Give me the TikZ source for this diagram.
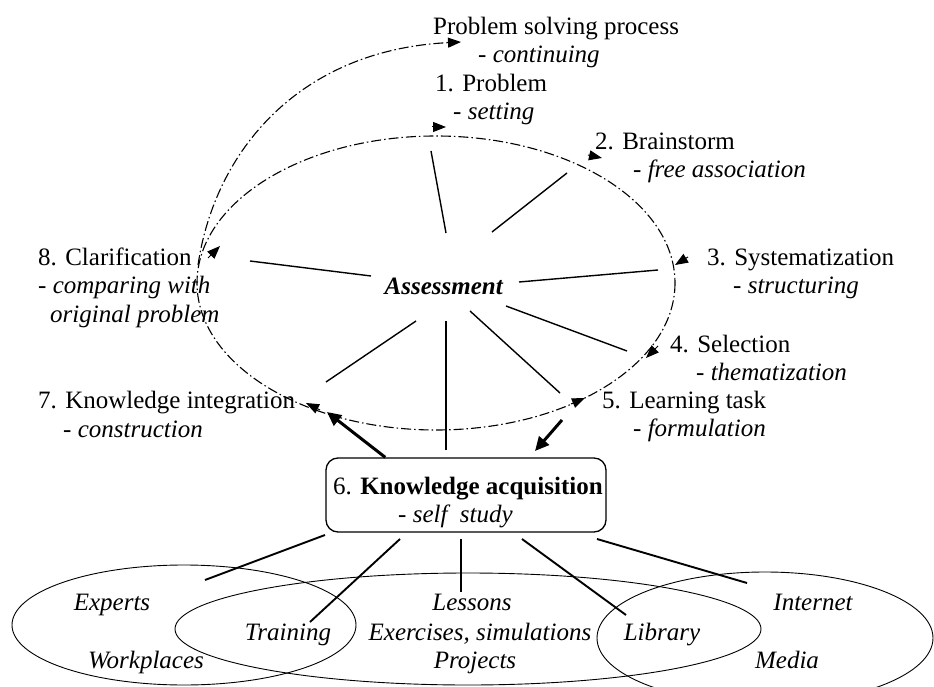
\documentclass[tikz,border=0pt]{standalone}
\usepackage{fontspec}
\setmainfont{Liberation Serif}
\usetikzlibrary{arrows.meta}

\tikzset{
  lab/.style={anchor=base west, inner sep=0pt},
  src/.style={anchor=base, inner sep=0pt, font=\fontsize{25}{28}\selectfont\itshape},
  spoke/.style={line width=1.4pt},
  link/.style={line width=1.9pt},
  area/.style={line width=0.9pt},
  loopline/.style={line width=1.1pt, dash pattern=on 10pt off 3pt on 1.5pt off 3pt},
  head/.style={line width=1pt, -{Triangle[length=13pt,width=10pt]}},
  bighead/.style={line width=3pt, -{Triangle[length=14pt,width=13pt]}},
  acqbox/.style={draw, line width=1.3pt, rounded corners=12pt, minimum width=280pt, minimum height=74pt}
}

\begin{document}
\begin{tikzpicture}[x=1pt,y=-1pt,font=\fontsize{25}{28}\selectfont]
\useasboundingbox (0,0) rectangle (934,687);
\clip (0,0) rectangle (934,687);

\draw[loopline] (436,283) ellipse [x radius=239, y radius=147];
\draw[loopline,-{Triangle[length=13pt,width=10pt]}]
     (198,265) .. controls (215,150) and (300,50) .. (461,42);

\draw[head] (432,127) -- (446,127);
\draw[head] (588,155) -- (602,158);
\draw[head] (688,257) -- (675,265);
\draw[head] (658,346) -- (646,358);
\draw[head] (571,404) -- (585,398);
\draw[head] (320,410) -- (306,403);
\draw[head] (208,258) -- (220,246);

\node (p0)  [lab] at (433,35)  {Problem solving process};
\node (p0s) [lab] at (478,63)  {- \textit{continuing}};
\node (p1)  [lab] at (435,92)  {1. Problem};
\node (p1s) [lab] at (453,120) {- \textit{setting}};
\node (p2)  [lab] at (595,150) {2. Brainstorm};
\node (p2s) [lab] at (633,178) {- \textit{free association}};
\node (p3)  [lab] at (707,265) {3. Systematization};
\node (p3s) [lab] at (733,293) {- \textit{structuring}};
\node (p4)  [lab] at (670,352) {4. Selection};
\node (p4s) [lab] at (696,380) {- \textit{thematization}};
\node (p5)  [lab] at (602,408) {5. Learning task};
\node (p5s) [lab] at (633,436) {- \textit{formulation}};
\node (p7)  [lab] at (38,408)  {7. Knowledge integration};
\node (p7s) [lab] at (63,437)  {- \textit{construction}};
\node (p8)  [lab] at (38,265)  {8. Clarification};
\node (p8s) [lab] at (38,293)  {- \textit{comparing with}};
\node (p8t) [lab] at (50,322)  {\textit{original problem}};

\node (as) [anchor=base, inner sep=0pt] at (444,294) {\textbf{\textit{Assessment}}};

\coordinate (i1) at (446,233); \coordinate (o1) at (431,151);
\coordinate (i2) at (492,232); \coordinate (o2) at (567,173);
\coordinate (i3) at (519,282); \coordinate (o3) at (658,270);
\coordinate (i4) at (506,306); \coordinate (o4) at (627,351);
\coordinate (i5) at (470,311); \coordinate (o5) at (560,393);
\coordinate (i6) at (446,321); \coordinate (o6) at (446,450);
\coordinate (i7) at (416,321); \coordinate (o7) at (326,382);
\coordinate (i8) at (371,276); \coordinate (o8) at (250,261);
\foreach \k in {1,...,8}
  \draw[spoke] (i\k) -- (o\k);

\node (acq) [acqbox] at (466,495) {};
\node (acqt) [lab] at (333,494) {6. \textbf{Knowledge acquisition}};
\node (acqs) [lab] at (398,522) {- \textit{self\enspace study}};

\coordinate (k7) at (327,412);
\coordinate (k5) at (562,420);
\coordinate (k6) at (535,451);
\draw[bighead] (acq.155) -- (k7);
\draw[bighead] (k5) -- (k6);

\draw[area] (184,625) ellipse [x radius=172, y radius=60];
\draw[area] (468,629) ellipse [x radius=293, y radius=56];
\draw[area] (765,638) ellipse [x radius=168, y radius=66];

\node (ex) [src] at (112,610) {Experts};
\node (wp) [src] at (146,668) {Workplaces};
\node (tr) [src] at (288,640) {Training};
\node (ls) [src] at (472,610) {Lessons};
\node (es) [src] at (480,640) {Exercises, simulations};
\node (pj) [src] at (475,668) {Projects};
\node (lb) [src] at (662,640) {Library};
\node (in) [src] at (813,610) {Internet};
\node (md) [src] at (787,668) {Media};

\coordinate (b1) at (325,535); \coordinate (e1) at (205,580);
\coordinate (b2) at (400,539); \coordinate (e2) at (310,622);
\coordinate (b3) at (461,539); \coordinate (e3) at (461,592);
\coordinate (b4) at (522,539); \coordinate (e4) at (626,615);
\coordinate (b5) at (597,539); \coordinate (e5) at (747,583);
\foreach \k in {1,...,5}
  \draw[link] (b\k) -- (e\k);
\end{tikzpicture}
\end{document}
